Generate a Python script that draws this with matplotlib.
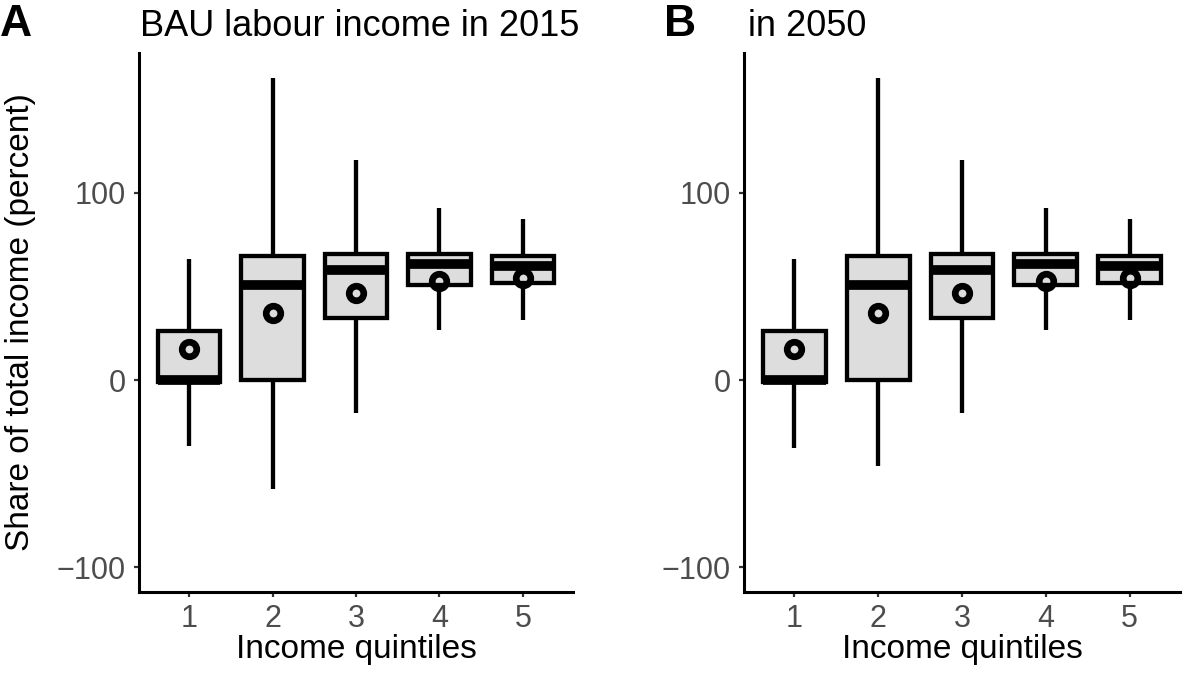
import matplotlib
matplotlib.use("Agg")
import matplotlib.pyplot as plt

plt.rcParams['font.family'] = ['Liberation Sans', 'DejaVu Sans']

quintiles = [1, 2, 3, 4, 5]

# panel A: 2015
whislo_15 = [-35.3, -58.3, -17.7, 26.6, 31.9]
q1_15 = [-1.0, 0.0, 33.2, 50.9, 52.1]
med_15 = [0.0, 50.9, 58.7, 61.9, 61.1]
q3_15 = [26.2, 66.2, 67.2, 67.2, 66.2]
whishi_15 = [64.7, 161.5, 117.5, 92.0, 86.0]
mean_15 = [16.8, 35.7, 46.4, 53.0, 54.5]

# panel B: 2050
whislo_50 = [-36.2, -45.7, -17.7, 26.6, 31.9]
q1_50 = [-1.0, 0.0, 33.2, 50.9, 52.1]
med_50 = [0.0, 50.9, 58.7, 61.9, 61.1]
q3_50 = [26.2, 66.2, 67.2, 67.2, 66.2]
whishi_50 = [64.7, 161.5, 117.5, 92.0, 86.0]
mean_50 = [16.8, 35.7, 46.4, 53.0, 54.5]

W, H = 1186, 676
fig = plt.figure(figsize=(W / 100, H / 100), dpi=100)


def px_axes(left, right, top, bottom):
    return fig.add_axes([left / W, (H - bottom) / H, (right - left) / W, (bottom - top) / H])


def panel(ax, lo, q1, med, q3, hi, mean):
    stats = []
    for i in range(len(quintiles)):
        stats.append(dict(whislo=lo[i], q1=q1[i], med=med[i], q3=q3[i],
                          whishi=hi[i], mean=mean[i], fliers=[]))
    ax.bxp(stats, positions=quintiles, widths=0.75, patch_artist=True,
           showmeans=True, showcaps=False,
           boxprops=dict(facecolor='#DDDDDD', edgecolor='black', linewidth=3.1),
           whiskerprops=dict(color='black', linewidth=3.1, solid_capstyle='butt'),
           medianprops=dict(color='black', linewidth=7, solid_capstyle='butt'),
           meanprops=dict(marker='o', markerfacecolor='none', markeredgecolor='black',
                          markersize=10.5, markeredgewidth=4.8))
    ax.set_xlim(0.4, 5.6)
    ax.set_ylim(-113.1, 174.6)
    ax.set_yticks([-100, 0, 100])
    ax.set_yticklabels(['\u2212100', '0', '100'])
    ax.set_xticks(quintiles)
    ax.set_xticklabels([str(q) for q in quintiles])
    for s in ['top', 'right']:
        ax.spines[s].set_visible(False)
    for s in ['left', 'bottom']:
        ax.spines[s].set_linewidth(2.2)
        ax.spines[s].set_color('black')
    ax.tick_params(length=3.5, width=1.6, color='#333333', labelsize=22,
                   labelcolor='#4D4D4D', pad=6)
    ax.tick_params(axis='x', pad=5)
    ax.set_xlabel('Income quintiles', fontsize=24, labelpad=0)
    ax.patch.set_alpha(0)


axA = px_axes(139, 573, 53, 592)
panel(axA, whislo_15, q1_15, med_15, q3_15, whishi_15, mean_15)
axA.set_ylabel('Share of total income (percent)', fontsize=24, labelpad=15)

axB = px_axes(744, 1180, 53, 592)
panel(axB, whislo_50, q1_50, med_50, q3_50, whishi_50, mean_50)

fig.text(140 / W, 1 - 27 / H, 'BAU labour income in 2015', fontsize=26, va='center', ha='left')
fig.text(0 / W, 1 - 24 / H, 'A', fontsize=32, fontweight='bold', va='center', ha='left')
fig.text(748 / W, 1 - 27 / H, 'in 2050', fontsize=26, va='center', ha='left')
fig.text(664 / W, 1 - 24 / H, 'B', fontsize=32, fontweight='bold', va='center', ha='left')

fig.savefig('out.png', dpi=100)
